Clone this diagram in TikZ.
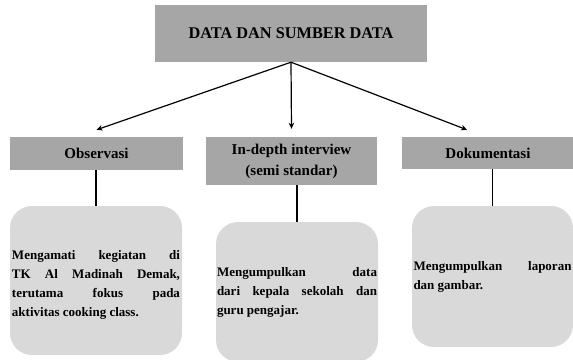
\documentclass[tikz,border=0pt]{standalone}
\usepackage{fontspec}
\setmainfont{Liberation Serif}
\usepackage{xcolor}
\usetikzlibrary{arrows.meta,positioning,calc}
\definecolor{headgray}{HTML}{A6A6A6}
\definecolor{cardgray}{HTML}{D9D9D9}

\begin{document}
\begin{tikzpicture}[
    >=Stealth, x=1pt, y=-1pt,
    head/.style={fill=headgray, inner sep=0pt, align=center, font=\fontsize{15}{21}\selectfont\bfseries},
    card/.style={fill=cardgray, rounded corners=22pt, inner xsep=2pt, inner ysep=0pt, align=justify, font=\fontsize{13}{19}\selectfont\bfseries},
    flow/.style={-{Stealth[length=6pt,width=5.5pt]}, line width=1.2pt},
    link/.style={line width=1.3pt}
]

\useasboundingbox (0,0) rectangle (573,359);

% ===== JUDUL =====
\node[head, minimum width=272pt, minimum height=57pt, font=\fontsize{16.3}{19}\selectfont\bfseries] (top) at (291,33.5) {DATA DAN SUMBER DATA};

% ===== SUMBER DATA =====
\node[head, minimum width=173pt, minimum height=33pt] (h1) at (96.5,153.5) {Observasi};
\node[head, minimum width=171pt, minimum height=48pt] (h2) at (291.5,161) {In-depth interview\\(semi standar)};
\node[head, minimum width=172pt, minimum height=32pt] (h3) at (488,153) {Dokumentasi};

% ===== KETERANGAN =====
\node[card, minimum width=172pt, minimum height=149pt, text width=168pt] (c1) at (96,280.5)
  {\rule{0pt}{17pt}Mengamati kegiatan di\linebreak TK Al Madinah Demak,\linebreak terutama fokus pada\linebreak aktivitas cooking class.};
\node[card, minimum width=162pt, minimum height=140pt, text width=160pt, inner xsep=1pt] (c2) at (297,292)
  {Mengumpulkan data\linebreak dari kepala sekolah dan\linebreak guru pengajar.};
\node[card, minimum width=161pt, minimum height=141pt, text width=158pt, inner xsep=1.5pt] (c3) at (492.5,276.5)
  {Mengumpulkan laporan\linebreak dan gambar.};

% ===== PANAH =====
\draw[flow] (top.south) -- ([yshift=7pt]h1.north);
\draw[flow] (top.south) -- ([yshift=8pt]h2.north);
\draw[flow] (top.south) -- ([xshift=-21pt,yshift=7pt]h3.north);

% ===== GARIS KE KETERANGAN =====
\draw[link] (c1.north |- h1.south) -- (c1.north);
\draw[link] (c2.north |- h2.south) -- (c2.north);
\draw[link] (c3.north |- h3.south) -- (c3.north);

\end{tikzpicture}
\end{document}
